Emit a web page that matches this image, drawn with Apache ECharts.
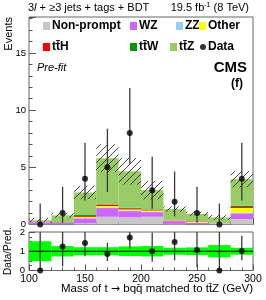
<!DOCTYPE html>
<html><head><meta charset="utf-8">
<script src="https://cdn.jsdelivr.net/npm/echarts@6/dist/echarts.min.js"></script>
<style>html,body{margin:0;padding:0;background:#fff}#c{width:266px;height:300px}</style>
</head><body><div id="c"></div>
<script>
// Bins (GeV) centres 110..290
const binCentres = [110,130,150,170,190,210,230,250,270,290];
const categories = binCentres.map(String);
// Background components (events)
const nonPrompt = [0.02,0.02,0.10,0.68,0.62,0.68,0.05,0.02,0.02,0.47];
const wz        = [0.18,0.13,0.42,0.76,0.55,0.40,0.25,0.12,0.08,0.50];
const zz        = [0.01,0.01,0.05,0.06,0.05,0.05,0.02,0.02,0.01,0.06];
const other     = [0.01,0.02,0.10,0.12,0.10,0.10,0.05,0.08,0.02,0.42];
const ttH       = [0.01,0.01,0.08,0.10,0.10,0.06,0.03,0.03,0.01,0.08];
const ttW       = [0.03,0.03,0.08,0.04,0.05,0.04,0.03,0.02,0.02,0.10];
const ttZ       = [0.12,0.58,1.97,4.04,3.18,1.67,0.92,0.65,0.46,2.34];
// Relative uncertainty of the prediction
const relUnc    = [0.52,0.27,0.21,0.21,0.25,0.27,0.18,0.20,0.32,0.18];
// Data with asymmetric errors
const dataVals  = [0,1,4,5,8,3,2,1,0,4];
const dataErrLo = [0,0.83,1.91,2.16,2.68,1.63,1.29,0.83,0,1.91];
const dataErrHi = [1.84,2.30,3.16,3.38,3.95,2.92,2.64,2.30,1.84,3.16];
// Tick labels
const xTicks = [100,150,200,250,300];
const yTicksMain = [0,5,10,15];
const yTicksRatio = [0,1,2];

const comps = [
  {name:'Non-prompt', data:nonPrompt, color:'#c8c8c8'},
  {name:'WZ', data:wz, color:'#cc66ff'},
  {name:'ZZ', data:zz, color:'#99ccff'},
  {name:'Other', data:other, color:'#ffff00'},
  {name:'tt\u0304H', data:ttH, color:'#ff0000'},
  {name:'tt\u0304W', data:ttW, color:'#009900'},
  {name:'tt\u0304Z', data:ttZ, color:'#99cc66'}
];
const total = binCentres.map((_,i)=>comps.reduce((s,c)=>s+c.data[i],0));

// hatch pattern
const pc = document.createElement('canvas'); pc.width = 7; pc.height = 7;
const g = pc.getContext('2d');
g.strokeStyle = '#333'; g.lineWidth = 0.9;
g.beginPath(); g.moveTo(0,7); g.lineTo(7,0); g.moveTo(-1,1); g.lineTo(1,-1); g.moveTo(6,8); g.lineTo(8,6); g.stroke();
const hatch = {image: pc, repeat: 'repeat'};

const FONT = 'Liberation Sans, Arial, sans-serif';
const chart = echarts.init(document.getElementById('c'), null, {renderer:'canvas'});

function rectItem(fill){
  return function(params, api){
    const i = api.value(0), lo = api.value(1), hi = api.value(2);
    const p1 = api.coord([i, hi]), p0 = api.coord([i, lo]);
    const w = api.size([1,0])[0];
    return {type:'rect', shape:{x:p1[0]-w/2, y:p1[1], width:w, height:p0[1]-p1[1]}, style:{fill:fill}};
  };
}
function errItem(color){
  return function(params, api){
    const i = api.value(0), lo = api.value(1), hi = api.value(2);
    const p1 = api.coord([i, hi]), p0 = api.coord([i, lo]);
    return {type:'line', shape:{x1:p1[0], y1:p1[1], x2:p0[0], y2:p0[1]}, style:{stroke:color, lineWidth:1.3}};
  };
}

const series = comps.map((c,k)=>({
  name:c.name, type:'bar', stack:'bkg', xAxisIndex:0, yAxisIndex:0,
  data:c.data, barCategoryGap:'0%', itemStyle:{color:c.color}, silent:true, animation:false
}));
series.push({type:'custom', xAxisIndex:0, yAxisIndex:0, renderItem:rectItem(hatch), animation:false, silent:true,
  encode:{x:0,y:[1,2]}, data:total.map((t,i)=>[i, t*(1-relUnc[i]), t*(1+relUnc[i])]), z:3});
series.push({type:'custom', xAxisIndex:0, yAxisIndex:0, renderItem:errItem('#3a3a3a'), animation:false, silent:true,
  encode:{x:0,y:[1,2]}, data:dataVals.map((d,i)=>[i, d-dataErrLo[i], d+dataErrHi[i]]), z:4});
series.push({name:'Data', type:'scatter', xAxisIndex:0, yAxisIndex:0, data:dataVals, symbol:'circle', symbolSize:6,
  itemStyle:{color:'#000'}, animation:false, silent:true, z:5, clip:false});
// ratio panel
series.push({type:'custom', xAxisIndex:2, yAxisIndex:2, renderItem:rectItem('#00ff00'), animation:false, silent:true,
  encode:{x:0,y:[1,2]}, data:total.map((t,i)=>[i, 1-relUnc[i], 1+relUnc[i]])});
series.push({type:'line', xAxisIndex:3, yAxisIndex:2, data:[[100,1],[300,1]], symbol:'none',
  lineStyle:{color:'#000', width:1}, animation:false, silent:true, z:3});
series.push({type:'custom', xAxisIndex:2, yAxisIndex:2, renderItem:errItem('#3a3a3a'), animation:false, silent:true,
  encode:{x:0,y:[1,2]}, data:dataVals.map((d,i)=>[i, Math.max(0,(d-dataErrLo[i])/total[i]), Math.min(2,(d+dataErrHi[i])/total[i])]), z:4});
series.push({type:'scatter', xAxisIndex:2, yAxisIndex:2, data:dataVals.map((d,i)=>d/total[i]), symbol:'circle', symbolSize:6,
  itemStyle:{color:'#000'}, animation:false, silent:true, z:5, clip:false});

const legendPos = [
  ['Non-prompt',43,20,'rect'],['WZ',130,20,'rect'],['ZZ',176,20,'rect'],['Other',199,20,'rect'],
  ['tt\u0304H',43,41,'rect'],['tt\u0304W',130,41,'rect'],['tt\u0304Z',170,41,'rect'],['Data',200,41,'circle']
];
const legends = legendPos.map(p=>({
  left:p[1], top:p[2], padding:0, itemWidth:p[3]==='circle'?6:7, itemHeight:p[3]==='circle'?6:8, itemGap:0,
  selectedMode:false, icon:p[3], data:[p[0]],
  textStyle:{fontFamily:FONT, fontWeight:'bold', fontSize:12, color:'#000', padding:[0,0,0,-3]}
}));

const tickCol = '#555';
const option = {
  animation:false,
  legend: legends,
  grid:[
    {left:29, right:13, top:17, bottom:75.5, show:true, borderColor:'#666', borderWidth:1, backgroundColor:'transparent'},
    {left:29, right:13, top:232, bottom:29.5, show:true, borderColor:'#666', borderWidth:1, backgroundColor:'transparent'}
  ],
  xAxis:[
    {type:'category', gridIndex:0, data:categories, show:false, position:'bottom'},
    {type:'value', gridIndex:0, position:'bottom', min:xTicks[0], max:xTicks[xTicks.length-1], interval:50,
      axisLine:{show:false}, axisLabel:{show:false}, splitLine:{show:false},
      axisTick:{show:true, inside:true, length:6, lineStyle:{color:tickCol}},
      minorTick:{show:true, splitNumber:5, length:3, lineStyle:{color:tickCol}}},
    {type:'category', gridIndex:1, data:categories, show:false, position:'bottom'},
    {type:'value', gridIndex:1, position:'bottom', min:xTicks[0], max:xTicks[xTicks.length-1], interval:50,
      axisLine:{show:false}, splitLine:{show:false},
      axisLabel:{show:true, fontFamily:FONT, fontSize:10.5, color:'#000', margin:3,
        formatter:v=>xTicks.includes(v)?String(v):''},
      axisTick:{show:true, inside:true, length:6, lineStyle:{color:tickCol}},
      minorTick:{show:true, splitNumber:5, length:3, lineStyle:{color:tickCol}}}
  ],
  yAxis:[
    {type:'value', gridIndex:0, position:'left', min:0, max:18.15, interval:5,
      axisLine:{show:false}, splitLine:{show:false},
      axisLabel:{fontFamily:FONT, fontSize:9.5, color:'#000', margin:3,
        formatter:v=>yTicksMain.includes(v)?String(v):''},
      axisTick:{show:true, inside:true, length:7, lineStyle:{color:tickCol}}},
    {type:'value', gridIndex:0, position:'left', min:0, max:18.15, interval:1,
      axisLine:{show:false}, splitLine:{show:false}, axisLabel:{show:false},
      axisTick:{show:true, inside:true, length:3.5, lineStyle:{color:tickCol}}},
    {type:'value', gridIndex:1, position:'left', min:0, max:2, interval:1,
      axisLine:{show:false}, splitLine:{show:false},
      axisLabel:{fontFamily:FONT, fontSize:9.5, color:'#000', margin:4,
        formatter:v=>yTicksRatio.includes(v)?String(v):''},
      axisTick:{show:true, inside:true, length:6, lineStyle:{color:tickCol}},
      minorTick:{show:true, splitNumber:4, length:3, lineStyle:{color:tickCol}}}
  ],
  graphic:[
    {type:'text', left:28, top:2, style:{rich:{a:{fontFamily:FONT,fontSize:11,fill:'#000'}, i:{fontFamily:FONT,fontSize:11,fontStyle:'italic',fill:'#000'}},
      text:'{a|3}{i|l}{a| + \u22653 jets + tags + BDT}'}},
    {type:'text', right:17, top:2, style:{rich:{a:{fontFamily:FONT,fontSize:11,fill:'#000'}, s:{fontFamily:FONT,fontSize:7,fill:'#000',verticalAlign:'top',padding:[0,0,5,0]}},
      text:'{a|19.5 fb}{s|-1}{a| (8 TeV)}'}},
    {type:'text', left:37, top:62, style:{text:'Pre-fit', fontFamily:FONT, fontSize:11, fontStyle:'italic', fill:'#000'}},
    {type:'text', right:19, top:60, style:{text:'CMS', fontFamily:FONT, fontSize:15, fontWeight:'bold', fill:'#000'}},
    {type:'text', right:23, top:78, style:{text:'(f)', fontFamily:FONT, fontSize:12, fontWeight:'bold', fill:'#000'}},
    {type:'text', x:3, y:17, rotation:Math.PI/2, style:{text:'Events', fontFamily:FONT, fontSize:11, fill:'#000', align:'right', verticalAlign:'top'}},
    {type:'text', x:3, y:251, rotation:Math.PI/2, style:{text:'Data/Pred.', fontFamily:FONT, fontSize:10, fill:'#000', align:'center', verticalAlign:'top'}},
    {type:'text', right:13, top:283, style:{rich:{a:{fontFamily:FONT,fontSize:11.5,fill:'#000'}, r:{fontFamily:'DejaVu Sans',fontSize:11,fill:'#000'}},
      text:'{a|Mass of t }{r|\u2192}{a| bqq\u0304 matched to tt\u0304Z (GeV)}'}}
  ],
  series:series
};
chart.setOption(option);
</script></body></html>
